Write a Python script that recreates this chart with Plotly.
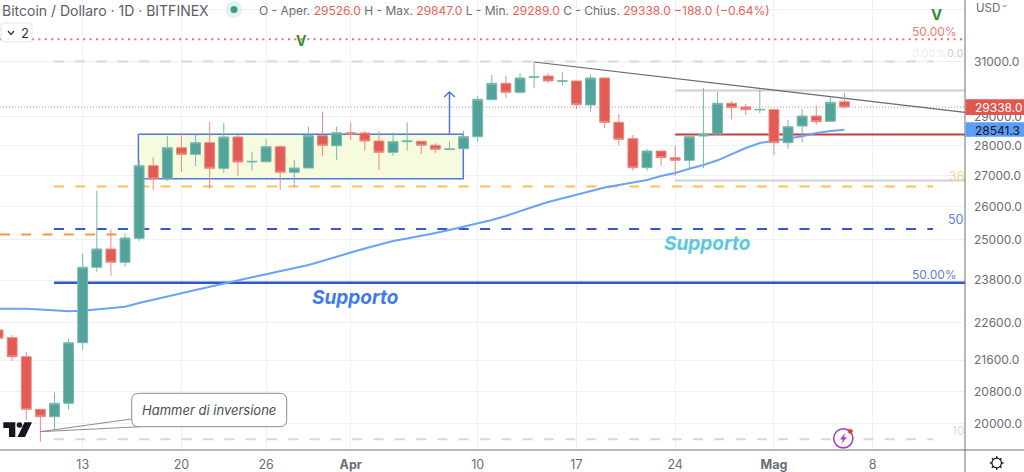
import math
import pandas as pd
import plotly.graph_objects as go

dates = pd.date_range("2023-03-07", periods=61, freq="D")
open_ = [22406,22198,21694,20357,20176,20505,22064,24171,24711,24317,25033,27330,26894,27931,27709,28101,27244,28295,27453,27463,27965,27113,27254,28340,27999,28443,28432,28159,27777,28135,28148,28013,27871,27898,28305,29601,30194,29867,30413,30461,30267,30278,29412,30388,28803,28237,27264,27820,27596,27509,28329,28398,29472,29341,29234,29245,28101,28674,29023,28838,29526]
high = [22514,22271,21818,20357,20770,22171,24583,26516,25307,25185,27519,27609,28329,28422,28422,28813,28768,28364,27797,28217,28013,27519,28650,29174,28650,28803,28512,28501,28456,28803,28148,28081,28135,28512,29733,30498,30472,30561,30993,30561,30598,30278,30535,30413,29083,28364,27888,27820,27999,28364,30022,29878,29565,29447,29975,29270,28883,29270,29401,29708,29847]
low = [22110,21581,20095,19575,19854,20340,21870,24042,23926,24188,24952,26539,26839,27123,27320,26581,27100,27002,27165,27443,26539,26626,27244,27663,27519,28193,27830,27188,27663,27830,27720,27743,27854,27878,28135,29590,29672,29852,30012,30194,30106,29270,29174,28594,28013,27165,27165,27320,26992,27211,27244,28388,28907,29058,29118,27686,27898,28114,28709,28824,29289]
close = [22182,21694,20357,20176,20505,22064,24171,24711,24317,25042,27330,26894,27931,27709,28101,27244,28295,27453,27473,27965,27113,27254,28340,28013,28443,28398,28159,27777,28135,28159,28013,27878,27888,28305,29615,30194,29867,30388,30432,30278,30285,29422,30388,28803,28217,27264,27820,27596,27509,28305,28398,29472,29316,29245,29255,28101,28650,29023,28824,29508,29338]
ema = [22990,22990,22988,22968,22940,22918,22935,22974,23010,23046,23149,23234,23326,23422,23516,23610,23696,23794,23880,23967,24054,24141,24238,24355,24488,24607,24726,24846,24952,25027,25103,25194,25286,25387,25485,25593,25717,25873,26015,26156,26267,26372,26507,26619,26700,26774,26862,26992,27090,27231,27353,27509,27720,27921,28091,28176,28244,28319,28432,28501,28541]

price_ticks = [33000, 31000, 29000, 28000, 27000, 26000, 25000, 23800, 22600, 21600, 20800, 20000]
price_labels = ["", "31000.0", "29000.0", "28000.0", "27000.0", "26000.0", "25000.0", "23800.0", "22600.0", "21600.0", "20800.0", "20000.0"]
date_ticks = ["2023-03-13", "2023-03-20", "2023-03-26", "2023-04-01", "2023-04-10", "2023-04-17", "2023-04-24", "2023-05-01", "2023-05-08"]
date_labels = ["13", "20", "26", "<b>Apr</b>", "10", "17", "24", "<b>Mag</b>", "8"]

top_dotted = 31843
last_price = 29338
last_ema = 28541.3
fib_zero = 31004
fib_382 = 26651
fib_50 = 25316
fib_100 = 19632
orange_left = 25152
support_main = 23725
red_level = 28381
grey_upper = 29932
grey_lower = 26845
box_top = 28388
box_bottom = 26901
arrow_tip = 29878
arrow_wing = 29697
trend_start = 30981
trend_end = 29153

W, H, AX_X, AX_Y = 1024, 472, 965, 450
FONT = "Inter"
GREY_TXT = "#6a6d78"
base = pd.Timestamp("2023-03-13")
PX_DAY = 14.107
def d(px):
    return base + pd.Timedelta(days=(px - 82.7) / PX_DAY)
x0, x1 = d(0), d(AX_X)
xrange = [x0.isoformat(), x1.isoformat()]
yrange = [4.28734, 4.52366]
def X(px): return px / AX_X
def Y(py): return 1 - py / AX_Y

def hline(price, a, b, color, width, dash="solid"):
    return go.Scatter(x=[a, b], y=[price, price], mode="lines", hoverinfo="skip", showlegend=False,
                      line=dict(color=color, width=width, dash=dash))

fig = go.Figure()
# highlighted consolidation box
bx0, bx1 = d(138.4), d(463.3)
fig.add_trace(go.Scatter(x=[bx0, bx1, bx1, bx0, bx0], y=[box_top, box_top, box_bottom, box_bottom, box_top],
                         mode="lines", fill="toself", fillcolor="#F5FBDC", hoverinfo="skip", showlegend=False,
                         line=dict(color="#5076DC", width=1.5)))
fib_a, fib_b = d(54), d(933)
dash = "10px,11.3px"
fig.add_trace(hline(top_dotted, x0, x1, "#F0706A", 2, "2px,4.4px"))
fig.add_trace(hline(last_price, x0, x1, "#EF7E7A", 1, "1px,2px"))
fig.add_trace(hline(fib_zero, fib_a, fib_b, "#D6D7DB", 2, dash))
fig.add_trace(hline(fib_382, fib_a, fib_b, "#FFC04F", 2, dash))
fig.add_trace(hline(fib_50, fib_a, fib_b, "#3358D0", 2, dash))
fig.add_trace(hline(fib_100, fib_a, fib_b, "#D6D7DB", 2, dash))
fig.add_trace(hline(orange_left, x0, d(128), "#F79646", 2, dash))
fig.add_trace(hline(support_main, fib_a, x1, "#2F55CE", 2.5))
r_a = pd.Timestamp("2023-04-24")
fig.add_trace(hline(grey_upper, r_a, x1, "#CFD0D4", 2))
fig.add_trace(hline(grey_lower, r_a, x1, "#CFD0D4", 2))
fig.add_trace(hline(red_level, r_a, x1, "#C93A3C", 2))
fig.add_trace(go.Scatter(x=[pd.Timestamp("2023-04-14"), x1], y=[trend_start, trend_end], mode="lines",
                         hoverinfo="skip", showlegend=False, line=dict(color="#66696f", width=1.2)))
ax = pd.Timestamp("2023-04-08")
wing = pd.Timedelta(days=0.38)
fig.add_trace(go.Scatter(x=[ax, ax, ax - wing, ax, ax + wing], y=[box_top, arrow_tip, arrow_wing, arrow_tip, arrow_wing],
                         mode="lines", hoverinfo="skip", showlegend=False, line=dict(color="#5076DC", width=1.5)))
fig.add_trace(go.Scatter(x=dates, y=ema, mode="lines", hoverinfo="skip", showlegend=False,
                         line=dict(color="#6AA3F5", width=2)))
# candles on an overlay so they sit above every line
fig.add_trace(go.Candlestick(x=dates, open=open_, high=high, low=low, close=close, xaxis="x2", yaxis="y2",
                             hoverinfo="skip", showlegend=False, whiskerwidth=0,
                             increasing=dict(fillcolor="#52A49A", line=dict(color="#77B8AF", width=1)),
                             decreasing=dict(fillcolor="#E05C54", line=dict(color="#EB8A83", width=1))))

shapes = []
def path(p, color="rgba(0,0,0,0)", lw=1, fill="rgba(0,0,0,0)"):
    shapes.append(dict(type="path", xref="paper", yref="paper", path=p, line=dict(color=color, width=lw), fillcolor=fill))
def P(cmds):
    out = []
    for c in cmds:
        if isinstance(c, str):
            out.append(c)
        else:
            out.append(f"{X(c[0]):.5f},{Y(c[1]):.5f}")
    return " ".join(out)
def rrect(a, t, b, u, r):
    return P(["M", (a + r, t), "L", (b - r, t), "Q", (b, t), (b, t + r), "L", (b, u - r), "Q", (b, u), (b - r, u),
              "L", (a + r, u), "Q", (a, u), (a, u - r), "L", (a, t + r), "Q", (a, t), (a + r, t), "Z"])
def circle(cx, cy, r, color="rgba(0,0,0,0)", lw=0, fill="rgba(0,0,0,0)"):
    shapes.append(dict(type="circle", xref="paper", yref="paper", x0=X(cx - r), x1=X(cx + r), y0=Y(cy + r), y1=Y(cy - r),
                       line=dict(color=color, width=lw), fillcolor=fill))
def rect(a, t, b, u, fill):
    shapes.append(dict(type="rect", xref="paper", yref="paper", x0=X(a), x1=X(b), y0=Y(u), y1=Y(t),
                       line=dict(width=0), fillcolor=fill))

# price-axis area and frame pieces
AXC = "#6f7179"
path(P(["M", (AX_X, 0), "L", (AX_X, H)]), AXC, 1)
path(P(["M", (0, AX_Y), "L", (W, AX_Y)]), AXC, 1)
rect(AX_X + 0.5, 99.3, W, 115, "#E0574F")
rect(AX_X + 0.5, 122.3, W, 136.7, "#5E9CF5")
# status dot
circle(234, 9.5, 8.5, fill="#E3F1EF")
circle(234, 9.5, 3.5, fill="#3F9A8E")
# button
path(rrect(1, 23, 32, 42, 3), "#E3E5EC", 1, "rgba(255,255,255,0.85)")
path(P(["M", (8, 31), "L", (11, 34.5), "L", (14, 31)]), "#2a2e39", 1.2)
# USD chevron
path(P(["M", (1002.5, 5), "L", (1004.5, 7), "L", (1006.5, 5)]), GREY_TXT, 1)
# callout
path(P(["M", (40, 431.7), "L", (131.7, 419), "M", (40, 431.7), "L", (140, 426.7)]), "#8a8c90", 1)
path(rrect(131.7, 393.3, 286.7, 426.7, 7), "#8a8c90", 1, "#ffffff")
# logo
path(P(["M", (3.3, 422.3), "L", (15.3, 422.3), "L", (15.3, 437), "L", (9, 437), "L", (9, 428), "L", (3.3, 428), "Z"]), fill="#131722")
circle(19.5, 425, 2.8, fill="#131722")
path(P(["M", (24.5, 422.3), "L", (32, 422.3), "L", (25, 437), "L", (17.5, 437), "Z"]), fill="#131722")
# lightning badge
circle(843.3, 438.3, 9.6, "#A53FC9", 1.6, "#ffffff")
path(P(["M", (845.5, 432.5), "L", (840, 439.5), "L", (843, 439.5), "L", (841.3, 444), "L", (847, 437.3), "L", (844, 437.3), "Z"]), fill="#A53FC9")
circle(850.3, 431.3, 2.4, fill="#E53935")
# gear
cx, cy = 996.7, 463
circle(cx, cy, 4.8, "#131722", 1.2)
seg = []
for i in range(8):
    a = i * math.pi / 4
    seg += ["M", (cx + 4.8 * math.cos(a), cy + 4.8 * math.sin(a)), "L", (cx + 6.8 * math.cos(a), cy + 6.8 * math.sin(a))]
path(P(seg), "#131722", 1.4)

annots = []
def label(px, py, text, size=13, color=GREY_TXT, anchor="left", **kw):
    annots.append(dict(xref="paper", yref="paper", x=X(px), y=Y(py), text=text, showarrow=False, xanchor=anchor,
                       yanchor="middle", borderpad=0, font=dict(family=FONT, size=size, color=color), **kw))
RED = "#E8625B"
label(1, 10, "Bitcoin / Dollaro · 1D · BITFINEX", 14, "#5b5e68")
red = lambda s: f'<span style="color:{RED}">{s}</span>'
label(258, 10, "O - Aper. " + red("29526.0") + " H - Max. " + red("29847.0") + " L - Min. " + red("29289.0")
      + " C - Chius. " + red("29338.0") + " " + red("−188.0 (−0.64%)"), 12, "#6a6d78")
label(20, 33, "2", 13, "#2a2e39", "left")
label(975, 7.5, "USD", 11.5, GREY_TXT)
label(974, 107.3, "29338.0", 12, "#ffffff")
label(974, 130, "28541.3", 12, "#131722")
label(301.5, 40.5, "<b>V</b>", 14, "#3B8A3A", "center")
label(936, 15, "<b>V</b>", 15, "#3B8A3A", "center")
label(957.5, 31, "50.00%", 12, "#EF7B78", "right")
label(947, 53, "0.00%", 11, "#ECECEE", "right")
label(965, 53, "0.0", 11, "#CFD1D8", "right")
label(965, 176.5, "38", 12.5, "#FBD38D", "right")
label(965, 219.7, "50", 12.5, "#5B7FDC", "right")
label(957.5, 274, "50.00%", 12, "#5B7FDC", "right")
label(965, 430, "10", 12, "#DADBE0", "right")
label(706.5, 243, "<b><i>Supporto</i></b>", 19, "#5BC8DC", "center")
label(354.5, 297, "<b><i>Supporto</i></b>", 19, "#3F7BEF", "center")
label(209, 410, "<i>Hammer di inversione</i>", 13, "#4a4e59", "center")

fig.update_layout(
    width=W, height=H, margin=dict(l=0, r=W - AX_X, t=0, b=H - AX_Y, pad=0),
    plot_bgcolor="#ffffff", paper_bgcolor="#ffffff", showlegend=False, boxgap=0.3, boxgroupgap=0,
    shapes=shapes, annotations=annots, font=dict(family=FONT),
    xaxis=dict(type="date", range=xrange, tickmode="array", tickvals=date_ticks, ticktext=date_labels,
               showgrid=True, gridcolor="#EDF0F6", gridwidth=1, zeroline=False, showline=False,
               tickfont=dict(family=FONT, size=12.5, color=GREY_TXT), ticks="", ticklabelstandoff=5, automargin=False,
               rangeslider=dict(visible=False)),
    yaxis=dict(type="log", range=yrange, side="right", tickmode="array", tickvals=price_ticks, ticktext=price_labels,
               showgrid=True, gridcolor="#EDF0F6", gridwidth=1, zeroline=False, showline=False,
               tickfont=dict(family=FONT, size=12, color=GREY_TXT), ticks="", ticklabelstandoff=8, automargin=False),
    xaxis2=dict(type="date", range=xrange, overlaying="x", visible=False, rangeslider=dict(visible=False), showgrid=False),
    yaxis2=dict(type="log", range=yrange, overlaying="y", visible=False, showgrid=False),
)
fig.write_html("out.html", config=dict(displayModeBar=False),
               post_script="document.body.style.margin='0';document.body.style.overflow='hidden';")
